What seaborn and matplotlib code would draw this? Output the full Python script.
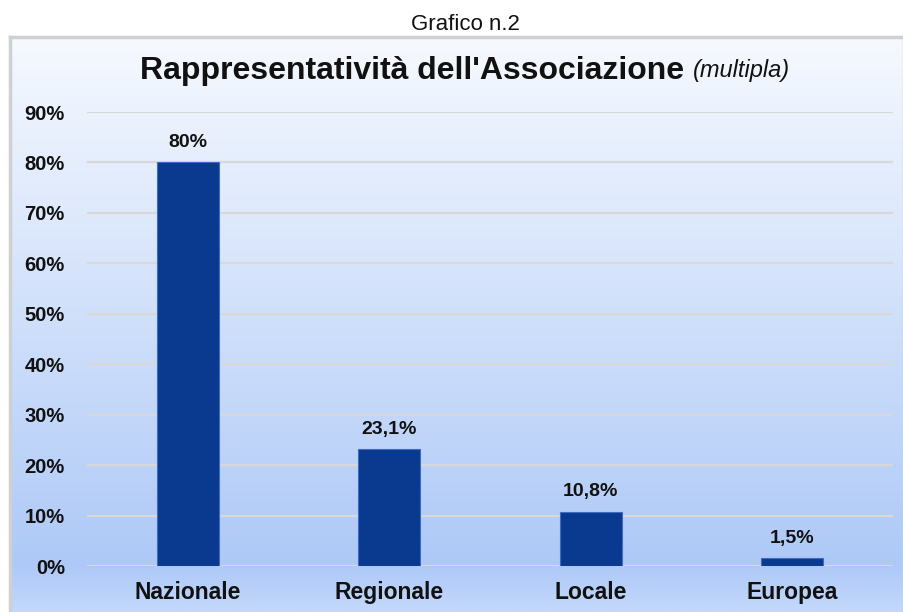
import numpy as np
import pandas as pd
import matplotlib
matplotlib.use("Agg")
import matplotlib.pyplot as plt
import seaborn as sns
from matplotlib.colors import LinearSegmentedColormap

# Data
categories = ["Nazionale", "Regionale", "Locale", "Europea"]
values = [80.0, 23.1, 10.8, 1.5]
value_labels = ["80%", "23,1%", "10,8%", "1,5%"]
yticks = [0, 10, 20, 30, 40, 50, 60, 70, 80, 90]
ytick_labels = [f"{t}%" for t in yticks]

df = pd.DataFrame({"area": categories, "pct": values})

sns.set_theme(style="white")
plt.rcParams["font.family"] = ["Liberation Sans", "DejaVu Sans"]

fig = plt.figure(figsize=(9.04, 6.12), dpi=100)
W, H = 904, 612

# background panel with vertical gradient
bg = fig.add_axes([10 / W, 0, (W - 10) / W, (H - 37) / H])
grad_cmap = LinearSegmentedColormap.from_list(
    "bg", [(0.0, "#c3d8fb"), (0.08, "#aec9f7"), (0.55, "#d3e2fb"), (1.0, "#f6f9fe")]
)
bg.imshow(np.linspace(0, 1, 256).reshape(-1, 1), aspect="auto", cmap=grad_cmap,
          origin="lower", extent=[0, 1, 0, 1])
bg.set_xlim(0, 1)
bg.set_ylim(0, 1)
bg.set_xticks([])
bg.set_yticks([])
for s in bg.spines.values():
    s.set_color("#d0d0d0")
    s.set_linewidth(2.5)
bg.spines["bottom"].set_visible(False)

fig.text(465 / W, 1 - 25 / H, "Grafico n.2", ha="center", va="center",
         fontsize=16, color="#111111")

# chart title: bold part + italic part, centred together
t1 = fig.text(0.5, 1 - 71 / H, "Rappresentatività dell'Associazione ", ha="right", va="center",
              fontsize=23, fontweight="bold", color="#111111")
t2 = fig.text(0.5, 1 - 71 / H, "(multipla)", ha="left", va="center",
              fontsize=17, fontstyle="italic", color="#111111")
fig.canvas.draw()
r = fig.canvas.get_renderer()
w1 = t1.get_window_extent(r).width
w2 = t2.get_window_extent(r).width
split = 465 / W - (w1 + w2) / 2 / W + w1 / W
t1.set_x(split)
t2.set_x(split)

ax = fig.add_axes([87 / W, 46 / H, (893 - 87) / W, (566 - 112) / H])
ax.patch.set_alpha(0)
sns.barplot(data=df, x="area", y="pct", ax=ax, color="#0a3a8f", width=0.31,
            saturation=1, edgecolor="#3d6cc2", linewidth=0.8, zorder=3)
ax.set_ylim(0, 90)
ax.set_yticks(yticks)
ax.set_yticklabels(ytick_labels)
ax.yaxis.grid(True, color="#d8d8d8", linewidth=1.6, zorder=0)
ax.set_axisbelow(True)
for s in ax.spines.values():
    s.set_visible(False)
ax.tick_params(axis="both", length=0)
ax.tick_params(axis="y", pad=16, labelsize=14.5)
ax.tick_params(axis="x", pad=11, labelsize=16.5)
for lab in ax.get_xticklabels() + ax.get_yticklabels():
    lab.set_fontweight("bold")
    lab.set_color("#111111")
ax.set_xlabel("")
ax.set_ylabel("")

for bar, txt in zip(ax.patches, value_labels):
    ax.annotate(txt, (bar.get_x() + bar.get_width() / 2, bar.get_height()),
                xytext=(0, 8), textcoords="offset points", ha="center", va="bottom",
                fontsize=14, fontweight="bold", color="#111111")

fig.savefig("out.png", dpi=100)
